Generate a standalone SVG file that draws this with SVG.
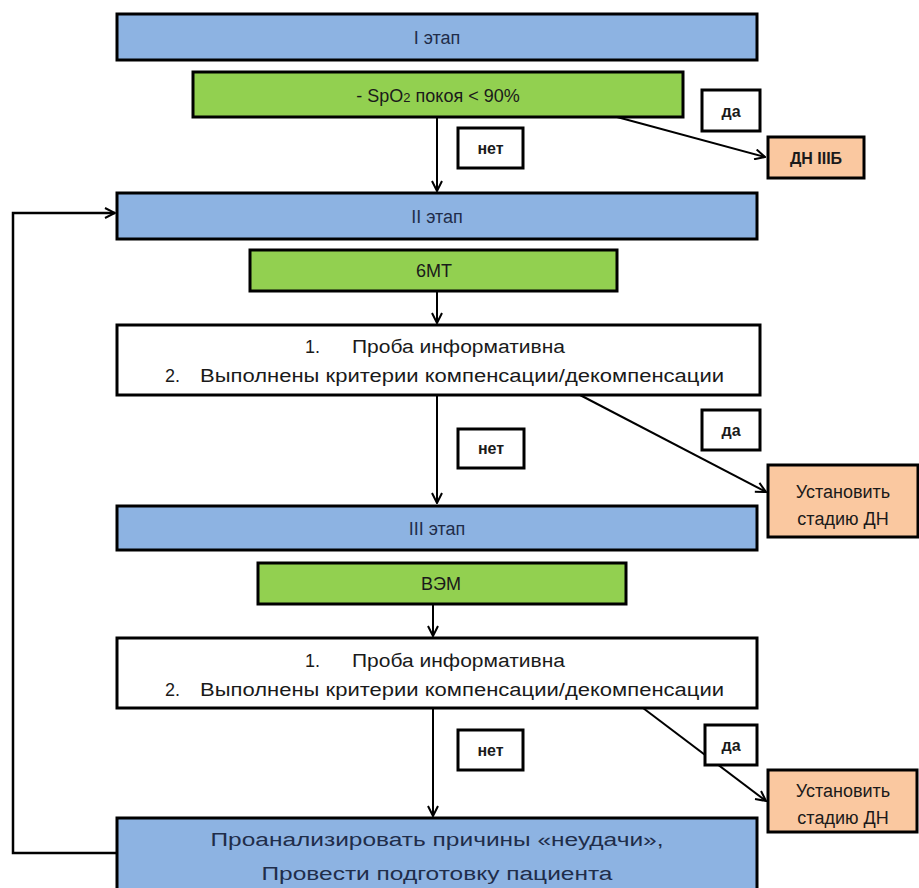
<svg xmlns="http://www.w3.org/2000/svg" width="919" height="888" viewBox="0 0 919 888">
<style>
  .blue{fill:#8DB3E2;stroke:#000;stroke-width:3}
  .green{fill:#92D050;stroke:#000;stroke-width:3}
  .white{fill:#fff;stroke:#000;stroke-width:3}
  .peach{fill:#FAC8A0;stroke:#000;stroke-width:3}
  .lbl{fill:#fff;stroke:#000;stroke-width:3}
  text{font-family:"Liberation Sans","Open Sans",sans-serif;fill:#1a1a1a;font-size:18px}
  .c{text-anchor:middle}
  .b{font-weight:bold;font-size:16px}
  .bt{fill:#1F2D4A}
  .con{fill:none;stroke:#000;stroke-width:2}
</style>
<defs>
  <marker id="ah" viewBox="0 0 12 12" refX="11" refY="6" markerWidth="12" markerHeight="12" markerUnits="userSpaceOnUse" orient="auto">
    <path d="M1,1 L11,6 L1,11" fill="none" stroke="#000" stroke-width="2"/>
  </marker>
</defs>
<rect width="919" height="888" fill="#fff"/>

<g id="connectors">
  <line class="con" x1="437" y1="117" x2="437" y2="191" marker-end="url(#ah)"/>
  <line class="con" x1="617" y1="117" x2="765" y2="157" marker-end="url(#ah)"/>
  <line class="con" x1="437" y1="291" x2="437" y2="323" marker-end="url(#ah)"/>
  <line class="con" x1="437" y1="395" x2="437" y2="503" marker-end="url(#ah)"/>
  <line class="con" x1="580" y1="395" x2="766" y2="492" marker-end="url(#ah)"/>
  <line class="con" x1="433" y1="604" x2="433" y2="636" marker-end="url(#ah)"/>
  <line class="con" x1="433" y1="708" x2="433" y2="816" marker-end="url(#ah)"/>
  <line class="con" x1="643" y1="708" x2="766" y2="801" marker-end="url(#ah)"/>
  <polyline class="con" points="117,853 13,853 13,213 115,213" marker-end="url(#ah)" style="stroke-width:2.5"/>
</g>

<g id="stage1">
  <rect class="blue" x="117" y="14" width="640" height="46"/>
  <text class="c bt" x="437" y="44">I этап</text>
</g>
<g id="spo2">
  <rect class="green" x="193" y="72" width="490" height="45"/>
  <text class="c" x="438" y="102">- SpO<tspan font-size="13">2</tspan> покоя &lt; 90%</text>
</g>
<g id="no1">
  <rect class="lbl" x="458" y="128" width="65" height="40"/>
  <text class="c b" x="490.5" y="154">нет</text>
</g>
<g id="yes1">
  <rect class="lbl" x="702" y="90" width="58" height="41"/>
  <text class="c b" x="731" y="117">да</text>
</g>
<g id="dn3b">
  <rect class="peach" x="768" y="137" width="96" height="41"/>
  <text class="c b" x="816" y="164">ДН IIIБ</text>
</g>
<g id="stage2">
  <rect class="blue" x="117" y="193" width="640" height="46"/>
  <text class="c bt" x="437" y="223">II этап</text>
</g>
<g id="smt">
  <rect class="green" x="250" y="250" width="367" height="41"/>
  <text class="c" x="434" y="277">6MT</text>
</g>
<g id="check1">
  <rect class="white" x="117" y="325" width="643" height="70"/>
  <text x="305" y="353">1.</text>
  <text x="352" y="353" textLength="213" lengthAdjust="spacingAndGlyphs">Проба информативна</text>
  <text x="165" y="382">2.</text>
  <text x="200" y="382" textLength="524" lengthAdjust="spacingAndGlyphs">Выполнены критерии компенсации/декомпенсации</text>
</g>
<g id="no2">
  <rect class="lbl" x="458" y="429" width="66" height="39"/>
  <text class="c b" x="491" y="454">нет</text>
</g>
<g id="yes2">
  <rect class="lbl" x="702" y="410" width="58" height="40"/>
  <text class="c b" x="731" y="436">да</text>
</g>
<g id="setdn1">
  <rect class="peach" x="768" y="465" width="150" height="72"/>
  <text class="c" x="843" y="498" font-size="17">Установить</text>
  <text class="c" x="843" y="525" font-size="17">стадию ДН</text>
</g>
<g id="stage3">
  <rect class="blue" x="117" y="506" width="640" height="44"/>
  <text class="c bt" x="437" y="535">III этап</text>
</g>
<g id="vem">
  <rect class="green" x="258" y="563" width="368" height="41"/>
  <text class="c" x="441" y="590">ВЭМ</text>
</g>
<g id="check2">
  <rect class="white" x="117" y="638" width="640" height="70"/>
  <text x="305" y="667">1.</text>
  <text x="352" y="667" textLength="213" lengthAdjust="spacingAndGlyphs">Проба информативна</text>
  <text x="165" y="696">2.</text>
  <text x="200" y="696" textLength="524" lengthAdjust="spacingAndGlyphs">Выполнены критерии компенсации/декомпенсации</text>
</g>
<g id="no3">
  <rect class="lbl" x="458" y="730" width="65" height="40"/>
  <text class="c b" x="490.5" y="756">нет</text>
</g>
<g id="yes3">
  <rect class="lbl" x="705" y="725" width="52" height="40"/>
  <text class="c b" x="731" y="751">да</text>
</g>
<g id="setdn2">
  <rect class="peach" x="768" y="770" width="149" height="62"/>
  <text class="c" x="843" y="797" font-size="17">Установить</text>
  <text class="c" x="843" y="824" font-size="17">стадию ДН</text>
</g>
<g id="analyze">
  <rect class="blue" x="117" y="818" width="640" height="72"/>
  <text class="c bt" x="437" y="846" textLength="453" lengthAdjust="spacingAndGlyphs">Проанализировать причины «неудачи»,</text>
  <text class="c bt" x="437" y="880" textLength="351" lengthAdjust="spacingAndGlyphs">Провести подготовку пациента</text>
</g>
</svg>
